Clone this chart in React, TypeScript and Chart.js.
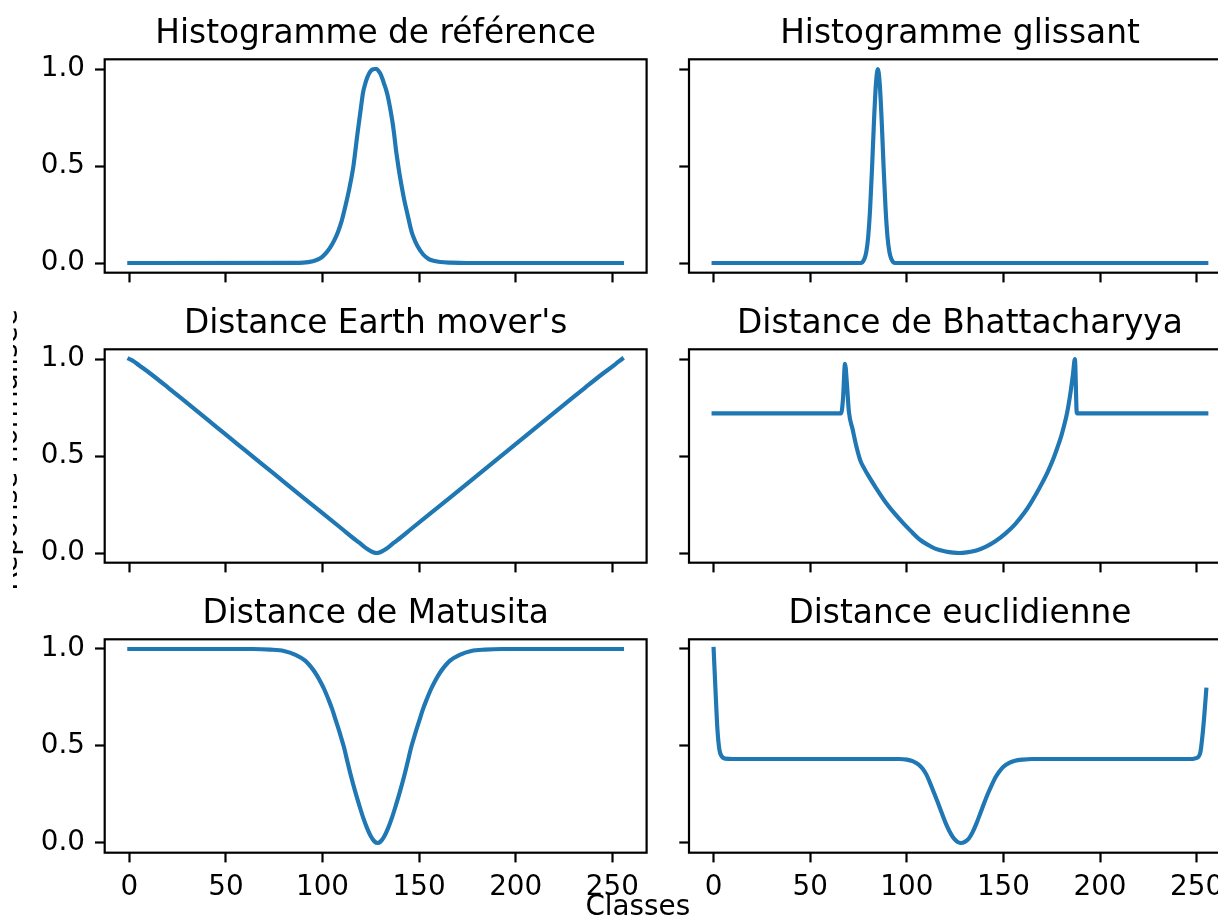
import React, { useEffect, useRef } from "react";
import { Chart, registerables } from "chart.js";

Chart.register(...registerables);

// ---------- data ----------
const titles = [
  "Histogramme de référence",
  "Histogramme glissant",
  "Distance Earth mover's",
  "Distance de Bhattacharyya",
  "Distance de Matusita",
  "Distance euclidienne",
];
const xTickValues = [0, 50, 100, 150, 200, 250];
const yTickValues = [0, 0.5, 1];
const xLabel = "Classes";
const yLabel = "Réponse normalisée";

const refX = [0, 85, 90, 95, 98, 100, 102, 104, 106, 108, 110, 112, 114, 116, 118, 120, 121, 122, 123, 124, 125, 126, 127, 128, 129, 130, 131, 132, 133, 134, 136, 137, 138, 139, 140, 142, 144, 146, 147, 149, 152, 155, 158, 161, 166, 175, 255];
const refY = [0, 0.001, 0.002, 0.009, 0.02, 0.033, 0.053, 0.08, 0.115, 0.16, 0.22, 0.3, 0.39, 0.5, 0.66, 0.81, 0.88, 0.92, 0.952, 0.975, 0.99, 0.998, 1.0, 1.0, 0.99, 0.975, 0.95, 0.92, 0.89, 0.85, 0.74, 0.67, 0.585, 0.515, 0.45, 0.34, 0.25, 0.165, 0.135, 0.09, 0.045, 0.02, 0.01, 0.005, 0.002, 0, 0];

const slideX = [0, 76, 77, 78, 79, 80, 81, 82, 83, 84, 85, 86, 87, 88, 89, 90, 91, 92, 93, 94, 255];
const slideY = [0, 0, 0.004, 0.02, 0.056, 0.135, 0.28, 0.49, 0.73, 0.92, 1.0, 0.92, 0.73, 0.49, 0.28, 0.135, 0.056, 0.02, 0.004, 0, 0];

const emdX = [0, 2, 5, 11, 20, 30, 40, 50, 60, 70, 80, 90, 100, 110, 116, 119, 121, 123, 125, 126.5, 128, 129.5, 131, 133, 135, 137, 140, 146, 156, 166, 176, 186, 196, 206, 216, 226, 236, 245, 251, 253, 255];
const emdY = [1.0, 0.99, 0.968, 0.924, 0.853, 0.772, 0.691, 0.61, 0.529, 0.448, 0.367, 0.286, 0.206, 0.125, 0.076, 0.053, 0.037, 0.022, 0.01, 0.003, 0, 0.003, 0.01, 0.022, 0.037, 0.053, 0.076, 0.125, 0.206, 0.286, 0.367, 0.448, 0.529, 0.61, 0.691, 0.772, 0.853, 0.924, 0.968, 0.985, 1.0];

const bhatX = [0, 66, 67, 68, 69, 70, 72, 74, 76, 78, 80, 84, 89, 94, 98, 102, 107, 111, 115, 120, 124, 127, 131, 136, 141, 146, 151, 156, 161, 164, 167, 170, 173, 176, 178, 180, 182, 183, 184, 185, 186, 187, 188, 255];
const bhatY = [0.72, 0.72, 0.8, 0.975, 0.87, 0.73, 0.635, 0.545, 0.475, 0.435, 0.4, 0.336, 0.262, 0.2, 0.155, 0.114, 0.067, 0.042, 0.021, 0.008, 0.002, 0, 0.003, 0.013, 0.033, 0.062, 0.1, 0.148, 0.21, 0.255, 0.305, 0.36, 0.42, 0.49, 0.545, 0.605, 0.68, 0.725, 0.78, 0.845, 0.92, 1.0, 0.72, 0.72];

const matX = [0, 64, 73, 80, 86, 91, 95, 97, 99, 101, 103, 105, 107, 109, 111, 113, 115, 117, 119, 121, 123, 125, 127, 128.5, 130, 132, 134, 136, 138, 140, 142, 144, 146, 148, 150, 152, 154, 156, 158, 160, 162, 166, 171, 177, 184, 193, 255];
const matY = [1, 1, 0.997, 0.99, 0.97, 0.94, 0.895, 0.865, 0.83, 0.79, 0.742, 0.69, 0.628, 0.565, 0.497, 0.415, 0.335, 0.262, 0.195, 0.132, 0.078, 0.035, 0.007, 0, 0.007, 0.035, 0.078, 0.132, 0.195, 0.262, 0.335, 0.415, 0.497, 0.565, 0.628, 0.69, 0.742, 0.79, 0.83, 0.865, 0.895, 0.94, 0.97, 0.99, 0.997, 1, 1];

const eucX = [0, 1, 2, 3, 4, 6, 10, 96, 100, 103, 106, 108, 110, 112, 114, 116, 118, 120, 122, 124, 126, 128, 130, 132, 134, 136, 138, 140, 142, 144, 146, 148, 150, 153, 156, 160, 165, 247, 249, 251, 252, 253, 254, 255];
const eucY = [1.0, 0.78, 0.58, 0.48, 0.45, 0.435, 0.433, 0.433, 0.43, 0.422, 0.405, 0.385, 0.355, 0.31, 0.26, 0.21, 0.157, 0.105, 0.062, 0.028, 0.007, 0, 0.006, 0.022, 0.055, 0.1, 0.152, 0.205, 0.255, 0.3, 0.34, 0.37, 0.393, 0.413, 0.424, 0.43, 0.433, 0.433, 0.436, 0.445, 0.47, 0.55, 0.66, 0.79];

const seriesX = [refX, slideX, emdX, bhatX, matX, eucX];
const seriesY = [refY, slideY, emdY, bhatY, matY, eucY];

// ---------- layout / style ----------
const FONT = '"DejaVu Sans", "Liberation Sans", sans-serif';
const COL_LEFT = [104.7, 689.0];
const ROW_TOP = [59.3, 349.3, 639.3];
const PLOT_W = 541.9;
const PLOT_H = 213.4;
const LINE_COLOR = "#1f77b4";
const TICK_FONT = 27.8;
const TITLE_FONT = 32.8;

const panelDeco = {
  id: "panelDeco",
  afterDatasetsDraw(chart: any, _args: any, opts: any) {
    const { ctx, chartArea: a } = chart;
    ctx.save();
    ctx.strokeStyle = "#000";
    ctx.lineWidth = 2.2;
    ctx.lineJoin = "miter";
    ctx.strokeRect(a.left, a.top, a.right - a.left, a.bottom - a.top);
    ctx.fillStyle = "#000";
    ctx.font = `${TITLE_FONT}px ${FONT}`;
    ctx.textAlign = "center";
    ctx.textBaseline = "alphabetic";
    ctx.fillText(opts.text, (a.left + a.right) / 2, a.top - 16.7);
    ctx.restore();
  },
};

function geom(i: number) {
  const r = Math.floor(i / 2);
  const c = i % 2;
  const plotLeft = COL_LEFT[c];
  const plotTop = ROW_TOP[r];
  const cl = Math.floor(plotLeft) - 100;
  const ct = Math.floor(plotTop) - 70;
  const yW = plotLeft - cl;
  const padTop = plotTop - ct;
  const cw = Math.ceil(yW + PLOT_W + 20);
  const ch = Math.ceil(padTop + PLOT_H + 70);
  const padRight = cw - yW - PLOT_W;
  const xH = ch - padTop - PLOT_H;
  return { r, c, cl, ct, cw, ch, yW, padTop, padRight, xH };
}

export default function App() {
  const refs = useRef<(HTMLCanvasElement | null)[]>([]);

  useEffect(() => {
    const charts: Chart[] = [];
    for (let i = 0; i < 6; i++) {
      const cv = refs.current[i];
      if (!cv) continue;
      const g = geom(i);
      const showX = g.r === 2;
      const showY = g.c === 0;
      const data = seriesX[i].map((x, k) => ({ x, y: seriesY[i][k] }));
      const ch = new Chart(cv, {
        type: "line",
        data: {
          datasets: [
            {
              data,
              borderColor: LINE_COLOR,
              borderWidth: 4.17,
              pointRadius: 0,
              fill: false,
              cubicInterpolationMode: "monotone",
              borderJoinStyle: "round",
              borderCapStyle: "square",
            } as any,
          ],
        },
        options: {
          animation: false,
          responsive: false,
          maintainAspectRatio: false,
          devicePixelRatio: 1,
          events: [],
          layout: {
            autoPadding: false,
            padding: { top: g.padTop, right: g.padRight, left: 0, bottom: 0 },
          } as any,
          plugins: {
            legend: { display: false },
            tooltip: { enabled: false },
            title: { display: false },
            panelDeco: { text: titles[i] },
          } as any,
          scales: {
            x: {
              type: "linear",
              min: -12.75,
              max: 267.75,
              afterBuildTicks: (s: any) => {
                s.ticks = xTickValues.map((v) => ({ value: v }));
              },
              afterFit: (s: any) => {
                s.height = g.xH;
              },
              ticks: {
                display: showX,
                autoSkip: false,
                maxRotation: 0,
                padding: 9,
                color: "#000",
                font: { family: FONT, size: TICK_FONT },
                callback: (v: any) => String(v),
              },
              grid: {
                drawOnChartArea: false,
                drawTicks: true,
                tickLength: 9.7,
                tickWidth: 2.2,
                tickColor: "#000",
              },
              border: { display: false },
            },
            y: {
              type: "linear",
              min: -0.05,
              max: 1.05,
              afterBuildTicks: (s: any) => {
                s.ticks = yTickValues.map((v) => ({ value: v }));
              },
              afterFit: (s: any) => {
                s.width = g.yW;
              },
              ticks: {
                display: showY,
                padding: 10,
                color: "#000",
                font: { family: FONT, size: TICK_FONT },
                callback: (v: any) => Number(v).toFixed(1),
              },
              grid: {
                drawOnChartArea: false,
                drawTicks: true,
                tickLength: 9.7,
                tickWidth: 2.2,
                tickColor: "#000",
              },
              border: { display: false },
            },
          },
        } as any,
        plugins: [panelDeco],
      });
      charts.push(ch);
    }
    return () => charts.forEach((c) => c.destroy());
  }, []);

  return (
    <div
      style={{
        position: "fixed",
        left: 0,
        top: 0,
        width: 1218,
        height: 918,
        overflow: "hidden",
        background: "#fff",
      }}
    >
      {titles.map((_, i) => {
        const g = geom(i);
        return (
          <canvas
            key={i}
            ref={(el) => {
              refs.current[i] = el;
            }}
            width={g.cw}
            height={g.ch}
            style={{ position: "absolute", left: g.cl, top: g.ct, width: g.cw, height: g.ch }}
          />
        );
      })}
      <div
        style={{
          position: "absolute",
          left: 637.8,
          top: 891.5,
          transform: "translateX(-50%)",
          fontFamily: FONT,
          fontSize: TICK_FONT,
          lineHeight: `${TICK_FONT}px`,
          whiteSpace: "nowrap",
          color: "#000",
        }}
      >
        {xLabel}
      </div>
      <div
        style={{
          position: "absolute",
          left: 12.5,
          top: 290,
          width: 16,
          height: 330,
          overflow: "hidden",
        }}
      >
        <div
          style={{
            position: "absolute",
            left: 8.4 - 12.5,
            top: 450 - 290,
            transform: "translate(-50%, -50%) rotate(-90deg)",
            fontFamily: FONT,
            fontSize: TICK_FONT,
            lineHeight: `${TICK_FONT}px`,
            whiteSpace: "nowrap",
            color: "#000",
          }}
        >
          {yLabel}
        </div>
      </div>
    </div>
  );
}
